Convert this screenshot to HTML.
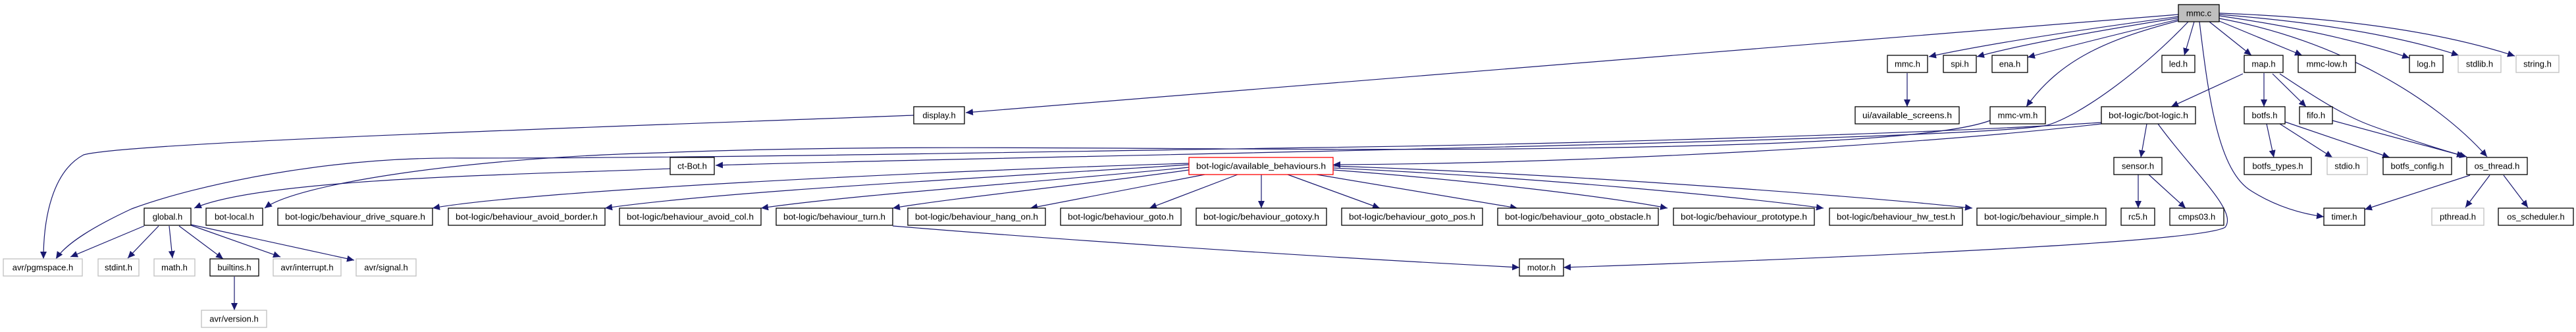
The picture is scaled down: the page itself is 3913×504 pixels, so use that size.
<!DOCTYPE html>
<html><head><meta charset="utf-8"><style>
html,body{margin:0;padding:0;background:#fff;}
svg{display:block;}
text{font-family:"Liberation Sans",sans-serif;font-size:13px;fill:#000;}
.b{fill:#fff;stroke:#000;stroke-width:1.3;}
.g{fill:#fff;stroke:#bfbfbf;stroke-width:1.3;}
.e{fill:none;stroke:#191970;stroke-width:1.2;}
</style></head><body>
<svg width="3913" height="504" viewBox="0 0 3913 504" xmlns="http://www.w3.org/2000/svg">
<defs><marker id="a" markerUnits="userSpaceOnUse" markerWidth="12" markerHeight="10" refX="11" refY="5" orient="auto"><path d="M0,0 L11,5 L0,10 z" fill="#191970"/></marker></defs>
<g marker-end="url(#a)">
<path class="e" d="M3309,22 L1467,171"/>
<path class="e" d="M3310,25 Q3050,60 2930,86"/>
<path class="e" d="M3310,27 Q3090,62 3003,86"/>
<path class="e" d="M3311,29 Q3150,68 3080,87"/>
<path class="e" d="M3311,31 C3200,60 3130,90 3078,162"/>
<path class="e" d="M3324,33 C3250,110 3160,175 3110,190 C3000,215 1400,240 1087,251"/>
<path class="e" d="M3333,33 L3318,84"/>
<path class="e" d="M3356,33 L3420,84"/>
<path class="e" d="M3371,32 L3497,84"/>
<path class="e" d="M3371,24 Q3550,50 3660,88"/>
<path class="e" d="M3371,22 Q3600,40 3735,84"/>
<path class="e" d="M3371,20 Q3650,30 3820,85"/>
<path class="e" d="M3371,28 C3550,60 3700,150 3778,238"/>
<path class="e" d="M3341,33 C3355,150 3370,260 3420,290 C3460,315 3500,325 3530,329"/>
<path class="e" d="M2897,111 L2897,162"/>
<path class="e" d="M3407,112 L3298,162"/>
<path class="e" d="M3439,111 L3439,162"/>
<path class="e" d="M3452,112 L3503,162"/>
<path class="e" d="M3463,112 C3520,150 3560,175 3600,190 C3660,212 3710,228 3747,238"/>
<path class="e" d="M3443,188 L3454,239"/>
<path class="e" d="M3463,188 L3543,239"/>
<path class="e" d="M3471,185 L3630,239"/>
<path class="e" d="M3543,183 L3743,237"/>
<path class="e" d="M3752,266 L3592,318"/>
<path class="e" d="M3782,266 L3745,315"/>
<path class="e" d="M3803,266 L3840,315"/>
<path class="e" d="M3261,188 L3252,239"/>
<path class="e" d="M3248,265 L3248,316"/>
<path class="e" d="M3264,265 L3320,316"/>
<path class="e" d="M3278,188 C3330,260 3400,320 3380,345 C3340,370 2700,395 2375,406"/>
<path class="e" d="M1356,343 C1500,355 1900,385 2308,406"/>
<path class="e" d="M3192,188 C2900,222 2400,248 2025,250"/>
<path class="e" d="M3192,186 C2900,205 2300,220 2000,224 C1600,230 1100,240 700,240 C500,238 300,280 200,317 C140,345 100,370 85,393"/>
<path class="e" d="M3023,183 C2950,210 2700,222 2300,226 C1800,230 1400,216 1000,232 C700,240 450,280 402,316"/>
<path class="e" d="M1388,175 C1000,190 200,215 127,235 C80,260 66,330 66,393"/>
<path class="e" d="M1018,256 C800,265 400,270 295,316"/>
<path class="e" d="M1806,248 C1400,260 800,290 657,316"/>
<path class="e" d="M1806,250 C1500,270 1100,290 919,316"/>
<path class="e" d="M1806,254 C1600,275 1300,295 1156,316"/>
<path class="e" d="M1806,258 C1650,280 1450,300 1356,316"/>
<path class="e" d="M1830,265 L1565,316"/>
<path class="e" d="M1880,265 L1746,316"/>
<path class="e" d="M1916,265 L1916,316"/>
<path class="e" d="M1956,265 L2096,316"/>
<path class="e" d="M2000,265 L2305,316"/>
<path class="e" d="M2025,258 C2250,275 2450,300 2533,316"/>
<path class="e" d="M2025,255 C2350,270 2650,300 2770,316"/>
<path class="e" d="M2025,252 C2400,265 2850,300 2996,316"/>
<path class="e" d="M219,343 L107,390"/>
<path class="e" d="M241,343 L194,392"/>
<path class="e" d="M257,343 L262,392"/>
<path class="e" d="M272,343 L339,393"/>
<path class="e" d="M290,342 L426,390"/>
<path class="e" d="M290,341 L538,395"/>
<path class="e" d="M356,420 L356,471"/>
</g>
<!-- nodes -->
<rect class="b" x="3309" y="7" width="62" height="26" style="fill:#bfbfbf"/><text x="3340" y="24.5" text-anchor="middle">mmc.c</text>
<rect class="b" x="2867" y="84" width="61" height="26"/><text x="2897.5" y="101.5" text-anchor="middle">mmc.h</text>
<rect class="b" x="2952" y="84" width="50" height="26"/><text x="2977" y="101.5" text-anchor="middle">spi.h</text>
<rect class="b" x="3026" y="84" width="54" height="26"/><text x="3053" y="101.5" text-anchor="middle">ena.h</text>
<rect class="b" x="3284" y="84" width="50" height="26"/><text x="3309" y="101.5" text-anchor="middle">led.h</text>
<rect class="b" x="3409" y="84" width="59" height="26"/><text x="3438.5" y="101.5" text-anchor="middle">map.h</text>
<rect class="b" x="3491" y="84" width="87" height="26"/><text x="3534.5" y="101.5" text-anchor="middle">mmc-low.h</text>
<rect class="b" x="3660" y="84" width="51" height="26"/><text x="3685.5" y="101.5" text-anchor="middle">log.h</text>
<rect class="g" x="3734" y="84" width="65" height="26"/><text x="3766.5" y="101.5" text-anchor="middle">stdlib.h</text>
<rect class="g" x="3822" y="84" width="65" height="26"/><text x="3854.5" y="101.5" text-anchor="middle">string.h</text>
<rect class="b" x="1388" y="162" width="77" height="26"/><text x="1426.5" y="179.5" text-anchor="middle">display.h</text>
<rect class="b" x="2818" y="162" width="158" height="26"/><text x="2897" y="179.5" text-anchor="middle" textLength="136" lengthAdjust="spacingAndGlyphs">ui/available_screens.h</text>
<rect class="b" x="3023" y="162" width="84" height="26"/><text x="3065" y="179.5" text-anchor="middle">mmc-vm.h</text>
<rect class="b" x="3192" y="162" width="143" height="26"/><text x="3263.5" y="179.5" text-anchor="middle" textLength="121" lengthAdjust="spacingAndGlyphs">bot-logic/bot-logic.h</text>
<rect class="b" x="3409" y="162" width="62" height="26"/><text x="3440" y="179.5" text-anchor="middle">botfs.h</text>
<rect class="b" x="3493" y="162" width="50" height="26"/><text x="3518" y="179.5" text-anchor="middle">fifo.h</text>
<rect class="b" x="1018" y="239" width="67" height="26"/><text x="1051.5" y="256.5" text-anchor="middle">ct-Bot.h</text>
<rect class="b" x="1806" y="239" width="219" height="26" style="stroke:#ff0000"/><text x="1915.5" y="256.5" text-anchor="middle" textLength="197" lengthAdjust="spacingAndGlyphs">bot-logic/available_behaviours.h</text>
<rect class="b" x="3211" y="239" width="73" height="26"/><text x="3247.5" y="256.5" text-anchor="middle">sensor.h</text>
<rect class="b" x="3409" y="239" width="102" height="26"/><text x="3460" y="256.5" text-anchor="middle">botfs_types.h</text>
<rect class="g" x="3535" y="239" width="61" height="26"/><text x="3565.5" y="256.5" text-anchor="middle">stdio.h</text>
<rect class="b" x="3620" y="239" width="104" height="26"/><text x="3672" y="256.5" text-anchor="middle">botfs_config.h</text>
<rect class="b" x="3747" y="239" width="92" height="26"/><text x="3793" y="256.5" text-anchor="middle">os_thread.h</text>
<rect class="b" x="219" y="316" width="71" height="26"/><text x="254.5" y="333.5" text-anchor="middle">global.h</text>
<rect class="b" x="313" y="316" width="86" height="26"/><text x="356" y="333.5" text-anchor="middle">bot-local.h</text>
<rect class="b" x="422" y="316" width="235" height="26"/><text x="539.5" y="333.5" text-anchor="middle" textLength="213" lengthAdjust="spacingAndGlyphs">bot-logic/behaviour_drive_square.h</text>
<rect class="b" x="681" y="316" width="238" height="26"/><text x="800" y="333.5" text-anchor="middle" textLength="216" lengthAdjust="spacingAndGlyphs">bot-logic/behaviour_avoid_border.h</text>
<rect class="b" x="941" y="316" width="215" height="26"/><text x="1048.5" y="333.5" text-anchor="middle" textLength="193" lengthAdjust="spacingAndGlyphs">bot-logic/behaviour_avoid_col.h</text>
<rect class="b" x="1179" y="316" width="177" height="26"/><text x="1267.5" y="333.5" text-anchor="middle" textLength="155" lengthAdjust="spacingAndGlyphs">bot-logic/behaviour_turn.h</text>
<rect class="b" x="1379" y="316" width="209" height="26"/><text x="1483.5" y="333.5" text-anchor="middle" textLength="187" lengthAdjust="spacingAndGlyphs">bot-logic/behaviour_hang_on.h</text>
<rect class="b" x="1611" y="316" width="183" height="26"/><text x="1702.5" y="333.5" text-anchor="middle" textLength="161" lengthAdjust="spacingAndGlyphs">bot-logic/behaviour_goto.h</text>
<rect class="b" x="1817" y="316" width="198" height="26"/><text x="1916" y="333.5" text-anchor="middle" textLength="176" lengthAdjust="spacingAndGlyphs">bot-logic/behaviour_gotoxy.h</text>
<rect class="b" x="2038" y="316" width="214" height="26"/><text x="2145" y="333.5" text-anchor="middle" textLength="192" lengthAdjust="spacingAndGlyphs">bot-logic/behaviour_goto_pos.h</text>
<rect class="b" x="2275" y="316" width="244" height="26"/><text x="2397" y="333.5" text-anchor="middle" textLength="222" lengthAdjust="spacingAndGlyphs">bot-logic/behaviour_goto_obstacle.h</text>
<rect class="b" x="2542" y="316" width="214" height="26"/><text x="2649" y="333.5" text-anchor="middle" textLength="192" lengthAdjust="spacingAndGlyphs">bot-logic/behaviour_prototype.h</text>
<rect class="b" x="2779" y="316" width="202" height="26"/><text x="2880" y="333.5" text-anchor="middle" textLength="180" lengthAdjust="spacingAndGlyphs">bot-logic/behaviour_hw_test.h</text>
<rect class="b" x="3003" y="316" width="196" height="26"/><text x="3101" y="333.5" text-anchor="middle" textLength="174" lengthAdjust="spacingAndGlyphs">bot-logic/behaviour_simple.h</text>
<rect class="b" x="3222" y="316" width="51" height="26"/><text x="3247.5" y="333.5" text-anchor="middle">rc5.h</text>
<rect class="b" x="3296" y="316" width="82" height="26"/><text x="3337" y="333.5" text-anchor="middle">cmps03.h</text>
<rect class="b" x="3530" y="316" width="62" height="26"/><text x="3561" y="333.5" text-anchor="middle">timer.h</text>
<rect class="g" x="3694" y="316" width="79" height="26"/><text x="3733.5" y="333.5" text-anchor="middle">pthread.h</text>
<rect class="b" x="3795" y="316" width="114" height="26"/><text x="3852" y="333.5" text-anchor="middle">os_scheduler.h</text>
<rect class="g" x="5" y="393" width="120" height="26"/><text x="65" y="410.5" text-anchor="middle">avr/pgmspace.h</text>
<rect class="g" x="149" y="393" width="62" height="26"/><text x="180" y="410.5" text-anchor="middle">stdint.h</text>
<rect class="g" x="234" y="393" width="62" height="26"/><text x="265" y="410.5" text-anchor="middle">math.h</text>
<rect class="b" x="319" y="393" width="74" height="26"/><text x="356" y="410.5" text-anchor="middle">builtins.h</text>
<rect class="g" x="415" y="393" width="103" height="26"/><text x="466.5" y="410.5" text-anchor="middle">avr/interrupt.h</text>
<rect class="g" x="541" y="393" width="91" height="26"/><text x="586.5" y="410.5" text-anchor="middle">avr/signal.h</text>
<rect class="b" x="2308" y="393" width="67" height="26"/><text x="2341.5" y="410.5" text-anchor="middle">motor.h</text>
<rect class="g" x="306" y="471" width="99" height="26"/><text x="355.5" y="488.5" text-anchor="middle">avr/version.h</text>
</svg>
</body></html>
